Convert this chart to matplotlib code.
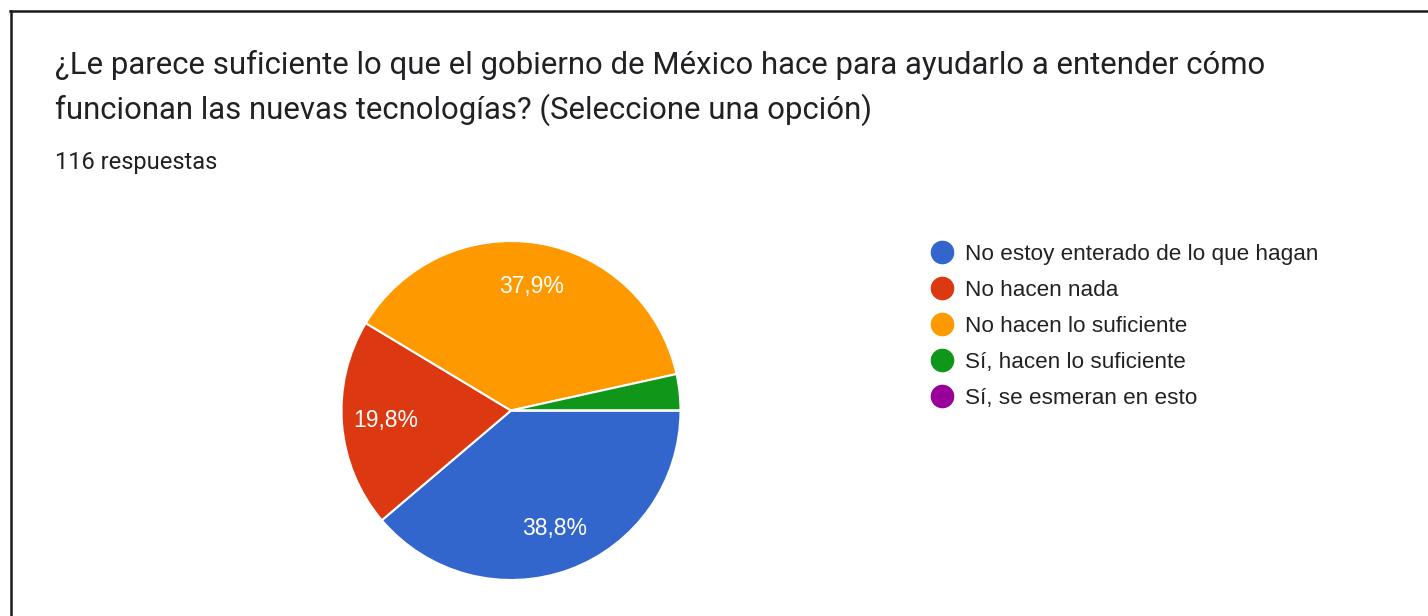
import matplotlib
matplotlib.use("Agg")
import matplotlib.pyplot as plt
from matplotlib.lines import Line2D

title_lines = [
    "¿Le parece suficiente lo que el gobierno de México hace para ayudarlo a entender cómo",
    "funcionan las nuevas tecnologías? (Seleccione una opción)",
]
subtitle = "116 respuestas"
categories = [
    "No estoy enterado de lo que hagan",
    "No hacen nada",
    "No hacen lo suficiente",
    "Sí, hacen lo suficiente",
    "Sí, se esmeran en esto",
]
counts = [45, 23, 44, 4, 0]
colors = ["#3366CC", "#DC3912", "#FF9900", "#109618", "#990099"]

W, H = 1428, 616
DPI = 100
fig = plt.figure(figsize=(W / DPI, H / DPI), dpi=DPI)
fig.patch.set_facecolor("white")

def fx(px):
    return px / W

def fy(py):
    return 1 - py / H

# frame lines (top and left)
fig.add_artist(Line2D([fx(10), fx(1428)], [fy(11), fy(11)], color="#1a1a1a", lw=1.8))
fig.add_artist(Line2D([fx(10.5), fx(10.5)], [fy(11), fy(616)], color="#1a1a1a", lw=1.8))

title_font = "Roboto"
fig.text(fx(55), fy(74), title_lines[0], fontsize=22.4, family=title_font,
         color="#202124", va="baseline", ha="left")
fig.text(fx(55), fy(119), title_lines[1], fontsize=22.4, family=title_font,
         color="#202124", va="baseline", ha="left")
fig.text(fx(55), fy(169), subtitle, fontsize=17, family=title_font,
         color="#202124", va="baseline", ha="left")

# pie
cx, cy, r = 511, 410.5, 169.5
ax = fig.add_axes([fx(cx - r), fy(cy + r), (2 * r) / W, (2 * r) / H])

def fmt(p):
    if p < 5:
        return ""
    return ("%.1f%%" % p).replace(".", ",")

wedges, texts, autotexts = ax.pie(
    counts, colors=colors, startangle=0, counterclock=False,
    autopct=fmt, pctdistance=0.74,
    wedgeprops=dict(edgecolor="white", linewidth=1.5),
    textprops=dict(color="white", fontsize=16.5, family="Liberation Sans"),
)
ax.set_xlim(-1, 1)
ax.set_ylim(-1, 1)
ax.set_aspect("equal")
ax.axis("off")

# legend
ly0, dy = 252, 36
for i, (lab, col) in enumerate(zip(categories, colors)):
    y = ly0 + i * dy
    fig.add_artist(Line2D([fx(942)], [fy(y)], marker="o", markersize=16,
                          markerfacecolor=col, markeredgecolor=col, lw=0))
    fig.text(fx(965), fy(y), lab, fontsize=16.2, family="Liberation Sans",
             color="#222222", va="center_baseline", ha="left")

fig.savefig("out.png", dpi=DPI, facecolor="white")
